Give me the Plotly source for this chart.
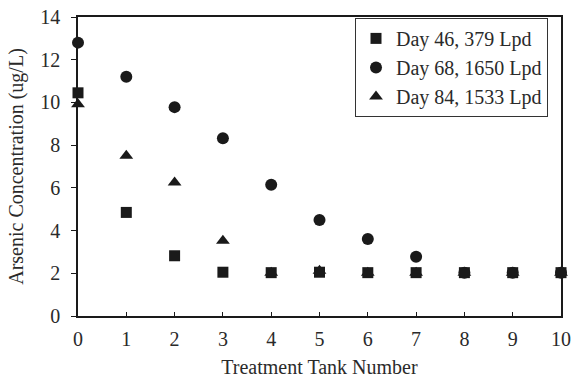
import plotly.graph_objects as go

tanks = list(range(11))
day46 = [10.45, 4.85, 2.82, 2.05, 2.03, 2.05, 2.03, 2.03, 2.03, 2.03, 2.03]
day68 = [12.8, 11.2, 9.78, 8.32, 6.15, 4.5, 3.6, 2.77, 2.03, 2.03, 2.03]
day84 = [9.92, 7.5, 6.25, 3.52, 2.03, 2.12, 2.03, 2.03, 2.03, 2.03, 2.03]
names = ["Day 46, 379 Lpd", "Day 68, 1650 Lpd", "Day 84, 1533 Lpd"]

FONT = "Liberation Serif, Times New Roman, serif"
C = "#1a1a1a"
TXT = "#2a2a2a"

fig = go.Figure()
fig.add_trace(go.Scatter(x=tanks, y=day84, mode="markers", name=names[2], legendrank=3,
                         marker=dict(symbol="triangle-up", size=12, color=C), cliponaxis=False))
fig.add_trace(go.Scatter(x=tanks, y=day68, mode="markers", name=names[1], legendrank=2,
                         marker=dict(symbol="circle", size=12, color=C), cliponaxis=False))
fig.add_trace(go.Scatter(x=tanks, y=day46, mode="markers", name=names[0], legendrank=1,
                         marker=dict(symbol="square", size=11, color=C), cliponaxis=False))

fig.update_layout(
    width=573, height=378,
    margin=dict(l=78, r=12, t=17, b=62),
    paper_bgcolor="white", plot_bgcolor="white",
    font=dict(family=FONT, size=20, color=TXT),
    showlegend=True,
    legend=dict(x=0.5735, y=0.997, xanchor="left", yanchor="top",
                bordercolor="#333", borderwidth=1, bgcolor="white",
                font=dict(family=FONT, size=20, color=TXT),
                itemwidth=30, tracegroupgap=0),
    xaxis=dict(range=[0, 10], tickvals=tanks, ticks="inside", ticklen=4,
               tickcolor=C, linecolor=C, linewidth=1.5, showline=True, mirror=True,
               showgrid=False, zeroline=False, automargin=False,
               ticklabelstandoff=4,
               title=dict(text="Treatment Tank Number", font=dict(size=20), standoff=14),
               tickfont=dict(size=20)),
    yaxis=dict(range=[0, 14], dtick=2, ticks="outside", ticklen=5,
               tickcolor=C, linecolor=C, linewidth=1.5, showline=True, mirror=True,
               showgrid=False, zeroline=False, automargin=False,
               ticklabelstandoff=7,
               title=dict(text="Arsenic Concentration (ug/L)", font=dict(size=20), standoff=11),
               tickfont=dict(size=20)),
)

fig.write_html("out.html")
